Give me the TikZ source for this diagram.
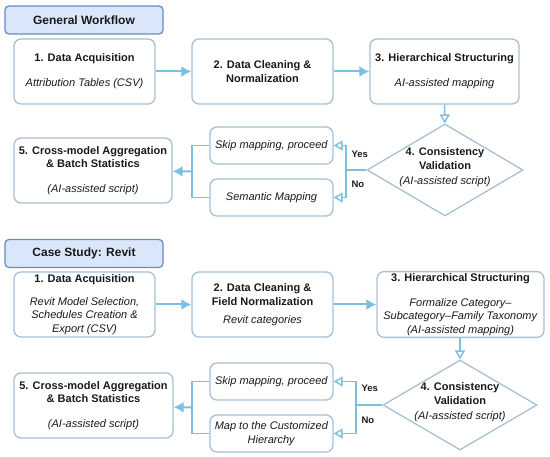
\documentclass[tikz,border=0pt]{standalone}
\usepackage{fontspec}
\setmainfont{Liberation Sans}
\definecolor{wfline}{RGB}{168,192,212}
\definecolor{wfarrow}{RGB}{122,192,224}
\definecolor{wfhead}{RGB}{218,231,250}
\definecolor{wfheadline}{RGB}{104,140,192}
\definecolor{wftext}{RGB}{26,26,26}
\usetikzlibrary{arrows.meta,positioning,shapes.geometric}

\begin{document}
\begin{tikzpicture}[x=1pt, y=-1pt, every node/.style={font=\fontsize{11}{13.5}\selectfont, text=wftext},
  head/.style={rounded corners=4pt, draw=wfheadline, fill=wfhead, line width=1.3pt, minimum width=158pt, minimum height=28pt, font=\fontsize{12}{14}\selectfont\bfseries},
  stepbox/.style={rounded corners=7pt, draw=wfline, fill=white, line width=1.3pt, minimum height=65pt, align=center, inner sep=2pt},
  optbox/.style={stepbox, minimum width=123pt, minimum height=37pt},
  check/.style={diamond, draw=wfline, fill=white, line width=1.3pt, inner sep=0pt},
  link/.style={draw=wfarrow, line width=1.5pt},
  flow/.style={draw=wfarrow, line width=2pt, -{Latex[width=11pt,length=10pt]}},
  branch/.style={link, -{Triangle[open,width=10pt,length=9pt]}},
  lbl/.style={font=\fontsize{9.5}{11}\selectfont\bfseries}]
\useasboundingbox (0,0) rectangle (550,457);
% General workflow
\node[head] (wfhead) at (84,20) {General Workflow};
\node[stepbox, minimum width=141pt] (wf1) at (84.5,71.5) {\textbf{1. Data Acquisition}\\[11.5pt]\textit{Attribution Tables (CSV)}};
\node[stepbox, minimum width=141pt] (wf2) at (262.5,71.5) {\textbf{2. Data Cleaning \&}\\\textbf{Normalization}};
\node[stepbox, minimum width=149pt] (wf3) at (444.5,71.5) {\textbf{3. Hierarchical Structuring}\\[11.5pt]\textit{AI-assisted mapping}};
\node[check, minimum width=156pt, minimum height=92pt,
  label={[align=center, yshift=3pt]center:{\textbf{4. Consistency}\\\textbf{Validation}\\[1.5pt]\textit{(AI-assisted script)}}}] (wfchk) at (445,170) {};
\node[optbox] (wfskip) at (271.5,145.5) {\textit{Skip mapping, proceed}};
\node[optbox] (wfmap) at (271.5,197.5) {\textit{Semantic Mapping}};
\node[stepbox, minimum width=158pt] (wfagg) at (93,170.5) {\textbf{5. Cross-model Aggregation}\\\textbf{\& Batch Statistics}\\[11.5pt]\textit{(AI-assisted script)}};
\coordinate (wfsplit) at (346,170);
\coordinate (wfmerge) at (192,171.5);
\draw[flow] (wf1) -- (wf2);
\draw[flow] (wf2) -- (wf3);
\draw[branch] (wf3) -- (wfchk);
\draw[link] (wfchk.west) -- (wfsplit);
\draw[branch] (wfsplit) |- (wfskip);
\draw[branch] (wfsplit) |- (wfmap);
\node[lbl, above right=9pt and 2pt of wfsplit] (wfyes) {Yes};
\node[lbl, below right=7pt and 2pt of wfsplit] (wfno) {No};
\draw[link] (wfskip) -| (wfmerge);
\draw[link] (wfmap) -| (wfmerge);
\draw[flow] (wfmerge) -- (wfagg);
% Case study
\node[head] (rvhead) at (84,253.5) {Case Study: Revit};
\node[stepbox, minimum width=141pt] (rv1) at (84.5,304.5) {\textbf{1. Data Acquisition}\\[9.5pt]\textit{Revit Model Selection,}\\\textit{Schedules Creation \&}\\\textit{Export (CSV)}};
\node[stepbox, minimum width=141pt] (rv2) at (262.5,304.5) {\textbf{2. Data Cleaning \&}\\\textbf{Field Normalization}\\[4.5pt]\textit{Revit categories}};
\node[stepbox, minimum width=167pt] (rv3) at (460.5,304.5) {\textbf{3. Hierarchical Structuring}\\[11pt]\textit{Formalize Category–}\\\textit{Subcategory–Family Taxonomy}\\\textit{(AI-assisted mapping)}};
\node[check, minimum width=154pt, minimum height=90pt,
  label={[align=center, yshift=3pt]center:{\textbf{4. Consistency}\\\textbf{Validation}\\[1.5pt]\textit{(AI-assisted script)}}}] (rvchk) at (460,405) {};
\node[optbox] (rvskip) at (271.5,381.5) {\textit{Skip mapping, proceed}};
\node[optbox] (rvmap) at (271.5,433.5) {\textit{Map to the Customized}\\\textit{Hierarchy}};
\node[stepbox, minimum width=159pt] (rvagg) at (93.5,405.5) {\textbf{5. Cross-model Aggregation}\\\textbf{\& Batch Statistics}\\[11.5pt]\textit{(AI-assisted script)}};
\coordinate (rvsplit) at (356,405);
\coordinate (rvmerge) at (192,407.5);
\draw[flow] (rv1) -- (rv2);
\draw[flow] (rv2) -- (rv3);
\draw[branch] (rv3.south -| rvchk.north) -- (rvchk);
\draw[link] (rvchk.west) -- (rvsplit);
\draw[branch] (rvsplit) |- (rvskip);
\draw[branch] (rvsplit) |- (rvmap);
\node[lbl, above right=10pt and 2pt of rvsplit] (rvyes) {Yes};
\node[lbl, below right=8pt and 2pt of rvsplit] (rvno) {No};
\draw[link] (rvskip) -| (rvmerge);
\draw[link] (rvmap) -| (rvmerge);
\draw[flow] (rvmerge) -- (rvagg);
\end{tikzpicture}
\end{document}
